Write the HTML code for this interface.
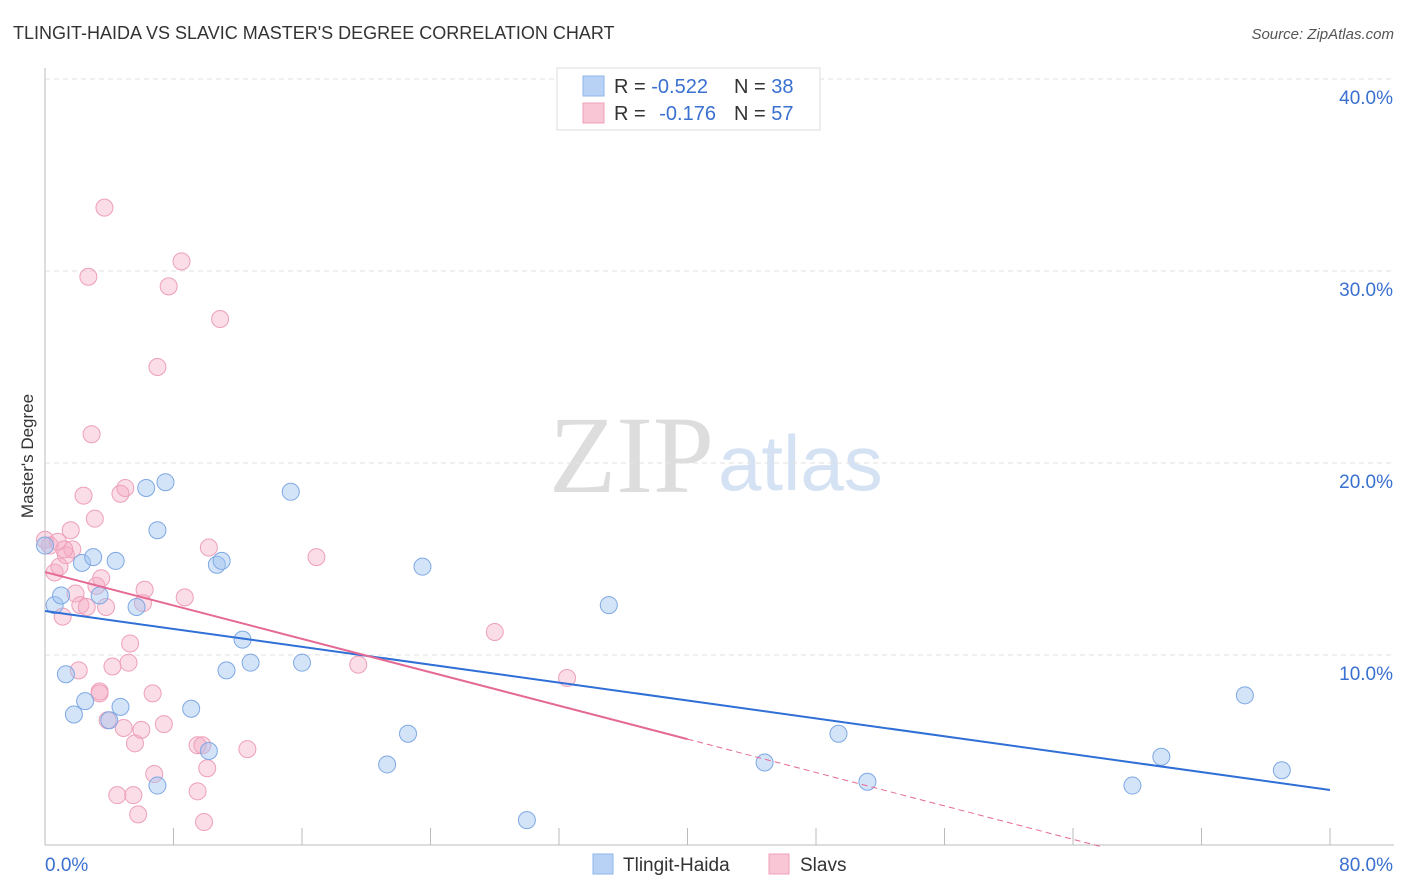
<!DOCTYPE html>
<html><head><meta charset="utf-8"><style>
body{margin:0;background:#fff;font-family:"Liberation Sans",sans-serif;}
svg{display:block}
</style></head><body>
<svg id="c" width="1406" height="892">
<text x="13" y="39" font-size="18" fill="#333">TLINGIT-HAIDA VS SLAVIC MASTER'S DEGREE CORRELATION CHART</text>
<text x="1394" y="39" font-size="15" fill="#555" font-style="italic" text-anchor="end">Source: ZipAtlas.com</text>
<text transform="translate(33,456) rotate(-90)" font-size="17" fill="#333" text-anchor="middle">Master's Degree</text>
<text x="714" y="492" font-size="110" fill="#ddd" font-family="Liberation Serif,serif" text-anchor="end">ZIP</text>
<text x="718" y="490" font-size="78" fill="#d4e2f4" text-anchor="start">atlas</text>
<g id="grid"></g><g id="marks"></g>
<rect x="557" y="68" width="263" height="62" fill="#fff" stroke="#ddd"/>
<rect x="583" y="76" width="21" height="20" fill="#b8d2f5" stroke="#8fb4ea"/>
<rect x="583" y="103" width="21" height="20" fill="#f9c6d5" stroke="#f0a0b9"/>
<text x="614" y="93" font-size="20" fill="#333">R = <tspan fill="#3a70d0">-0.522</tspan></text>
<text x="734" y="93" font-size="20" fill="#333">N = <tspan fill="#3a70d0">38</tspan></text>
<text x="614" y="120" font-size="20" fill="#333">R = <tspan fill="#3a70d0" dx="8">-0.176</tspan></text>
<text x="734" y="120" font-size="20" fill="#333">N = <tspan fill="#3a70d0">57</tspan></text>
<rect x="593" y="854" width="20" height="20" fill="#b8d2f5" stroke="#8fb4ea"/>
<text x="623" y="871" font-size="19" fill="#333">Tlingit-Haida</text>
<rect x="769" y="854" width="20" height="20" fill="#f9c6d5" stroke="#f0a0b9"/>
<text x="800" y="871" font-size="19" fill="#333">Slavs</text>
</svg>
<script>
const yTicks=[10,20,30,40];
const yTickLabels=["10.0%","20.0%","30.0%","40.0%"];
const xTickLabels=["0.0%","80.0%"];
const blueX=[0,0.6,1,1.3,1.8,2.3,2.5,3,3.4,4,4.4,4.7,5.7,6.3,7,7,7.5,9.1,10.2,10.7,11,11.3,12.3,12.8,15.3,16,21.3,22.6,23.5,30,35.1,44.8,49.4,51.2,67.7,69.5,74.7,77];
const blueY=[15.7,12.6,13.1,9,6.9,14.8,7.6,15.1,13.1,6.6,14.9,7.3,12.5,18.7,16.5,3.2,19,7.2,5,14.7,14.9,9.2,10.8,9.6,18.5,9.6,4.3,5.9,14.6,1.4,12.6,4.4,5.9,3.4,3.2,4.7,7.9,4];
const pinkX=[0,0.3,0.6,0.8,1.1,0.9,1.3,1.6,1.7,1.9,2.1,2.2,2.4,2.6,2.7,2.9,3.1,3.2,3.4,3.5,3.7,3.8,3.9,4.2,4.5,4.7,4.9,5,5.2,5.3,5.5,5.6,5.8,6,6.1,6.2,6.7,6.8,7,7.4,7.7,8.5,8.7,9.5,9.5,9.8,9.9,10.1,10.2,10.9,12.6,16.9,19.5,28,32.5,3.4,1.2];
const pinkY=[16,15.7,14.3,15.9,12,14.6,15.2,16.5,15.5,13.2,9.2,12.6,18.3,12.5,29.7,21.5,17.1,13.6,8.1,14,33.3,12.5,6.6,9.4,2.7,18.4,6.2,18.7,9.6,10.6,2.7,5.4,1.7,6.1,12.7,13.4,8,3.8,25,6.4,29.2,30.5,13,5.3,2.9,5.3,1.3,4.1,15.6,27.5,5.1,15.1,9.5,11.2,8.8,8,15.5];
const blueLine=[12.29,2.97];
const pinkLine=[14.32,-0.2175];
const X=v=>45+v*16.0625, Y=v=>847-v*19.2;
const NS="http://www.w3.org/2000/svg";
function mk(t,a,p){const e=document.createElementNS(NS,t);for(const k in a)e.setAttribute(k,a[k]);document.getElementById(p).appendChild(e);return e;}
yTicks.forEach((t,i)=>{
 const l=mk('line',{x1:45,x2:1394,y1:Y(t),y2:Y(t),stroke:'#e2e2e2','stroke-dasharray':'5,4'},'grid');
 
 
 const tx=mk('text',{x:1393,y:Y(t)+25,'font-size':19,fill:'#3a70d0','text-anchor':'end'},'grid');tx.textContent=yTickLabels[i];
 
 
});
let ax=mk('line',{x1:45,x2:45,y1:68,y2:845,stroke:'#bbb'},'grid');


ax=mk('line',{x1:45,x2:1394,y1:845,y2:845,stroke:'#bbb'},'grid');


for(let i=0;i<=10;i++){const t=mk('line',{x1:X(i*8),x2:X(i*8),y1:828,y2:845,stroke:'#bbb'},'grid');
 
 }
[[0,'start',45],[80,'end',1393]].forEach((d,i)=>{const t=mk('text',{x:d[2],y:871,'font-size':19,fill:'#3a70d0','text-anchor':d[1]},'grid');t.textContent=xTickLabels[i];
 
 });
pinkX.forEach((x,i)=>{const c=mk('circle',{cx:X(x),cy:Y(pinkY[i]),r:8.5,fill:'rgba(246,170,195,0.4)',stroke:'#eda0b8','stroke-width':1},'marks');
 
 });
blueX.forEach((x,i)=>{const c=mk('circle',{cx:X(x),cy:Y(blueY[i]),r:8.5,fill:'rgba(160,195,240,0.45)',stroke:'#7ea8e4','stroke-width':1},'marks');
 
 });
let l=mk('line',{x1:X(0),y1:Y(blueLine[0]),x2:X(80),y2:Y(blueLine[1]),stroke:'#2f6fd6','stroke-width':2},'marks');


const pz=-pinkLine[0]/pinkLine[1];
l=mk('line',{x1:X(0),y1:Y(pinkLine[0]),x2:X(40),y2:Y(pinkLine[0]+pinkLine[1]*40),stroke:'#e56a93','stroke-width':2},'marks');


l=mk('line',{x1:X(40),y1:Y(pinkLine[0]+pinkLine[1]*40),x2:X(pz),y2:Y(0),stroke:'#e56a93','stroke-width':1,'stroke-dasharray':'6,4'},'marks');


</script>
</body></html>
